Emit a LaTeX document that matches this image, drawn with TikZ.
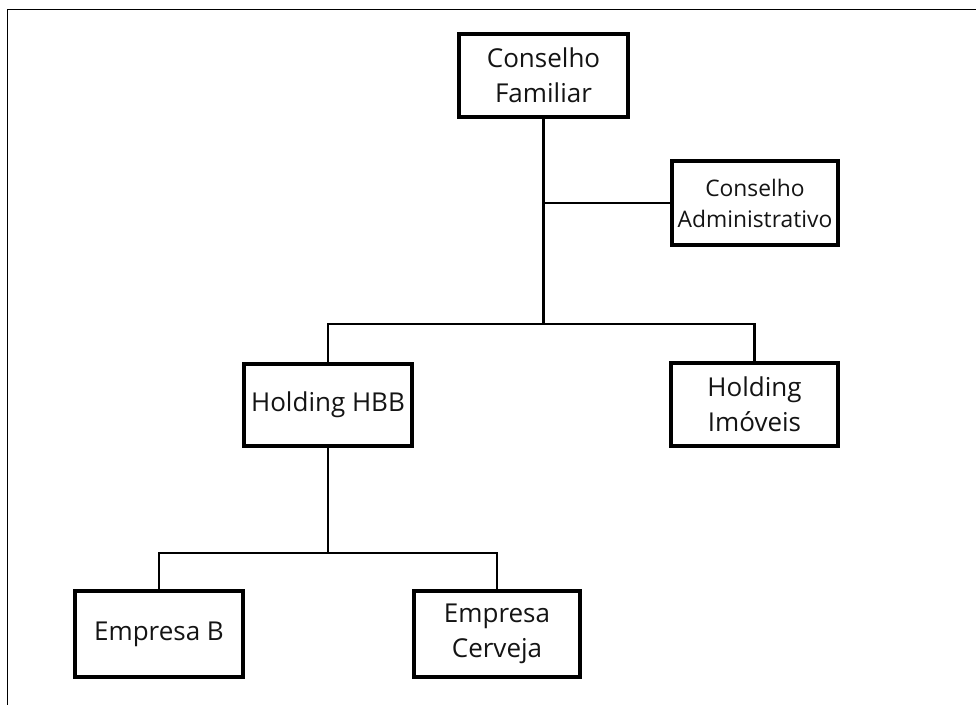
\documentclass[tikz,border=0pt]{standalone}
\usepackage{fontspec}
\setmainfont{Open Sans}
\definecolor{ink}{HTML}{141414}
\begin{document}
\begin{tikzpicture}[x=1pt,y=-1pt,
  orgbox/.style={draw=black, line width=4pt, fill=white, inner sep=0pt, outer sep=0pt,
    align=center, text=ink, font=\fontsize{26}{35}\selectfont},
  smallbox/.style={orgbox, font=\fontsize{22.8}{31}\selectfont},
  conn/.style={draw=black, line width=2.5pt, line join=miter},
  frame/.style={draw=black, line width=1.8pt}]
\useasboundingbox (0,0) rectangle (976,705);
% page frame
\coordinate (fTL) at (7.5,9.5);
\coordinate (fTR) at (976,9.5);
\coordinate (fBL) at (7.5,705);
\draw[frame] (fTR) -- (fTL) -- (fBL);
% nodes
\node[orgbox, minimum width=169pt, minimum height=83pt] (cf) at (543.5,75.5) {Conselho\\Familiar};
\node[smallbox, minimum width=166pt, minimum height=84pt] (ca) at (755,203) {Conselho\\Administrativo};
\node[orgbox, minimum width=168pt, minimum height=82pt] (hbb) at (328,405) {Holding HBB};
\node[orgbox, minimum width=167pt, minimum height=83pt] (hi) at (754.5,404.5) {Holding\\Imóveis};
\node[orgbox, minimum width=168pt, minimum height=86pt] (eb) at (159,634) {Empresa B};
\node[orgbox, minimum width=166pt, minimum height=86pt] (ec) at (497,634) {Empresa\\Cerveja};
% connector junctions
\coordinate (bar1) at (543.5,324);
\coordinate (bar2) at (328,553);
% connectors
\draw[conn] (cf.south) -- (bar1);
\draw[conn] (ca.west) -- (ca.west -| cf.south);
\draw[conn] (hbb.north) |- (bar1) -| (hi.north);
\draw[conn] (hbb.south) -- (bar2);
\draw[conn] (eb.north) |- (bar2) -| (ec.north);
\end{tikzpicture}
\end{document}
